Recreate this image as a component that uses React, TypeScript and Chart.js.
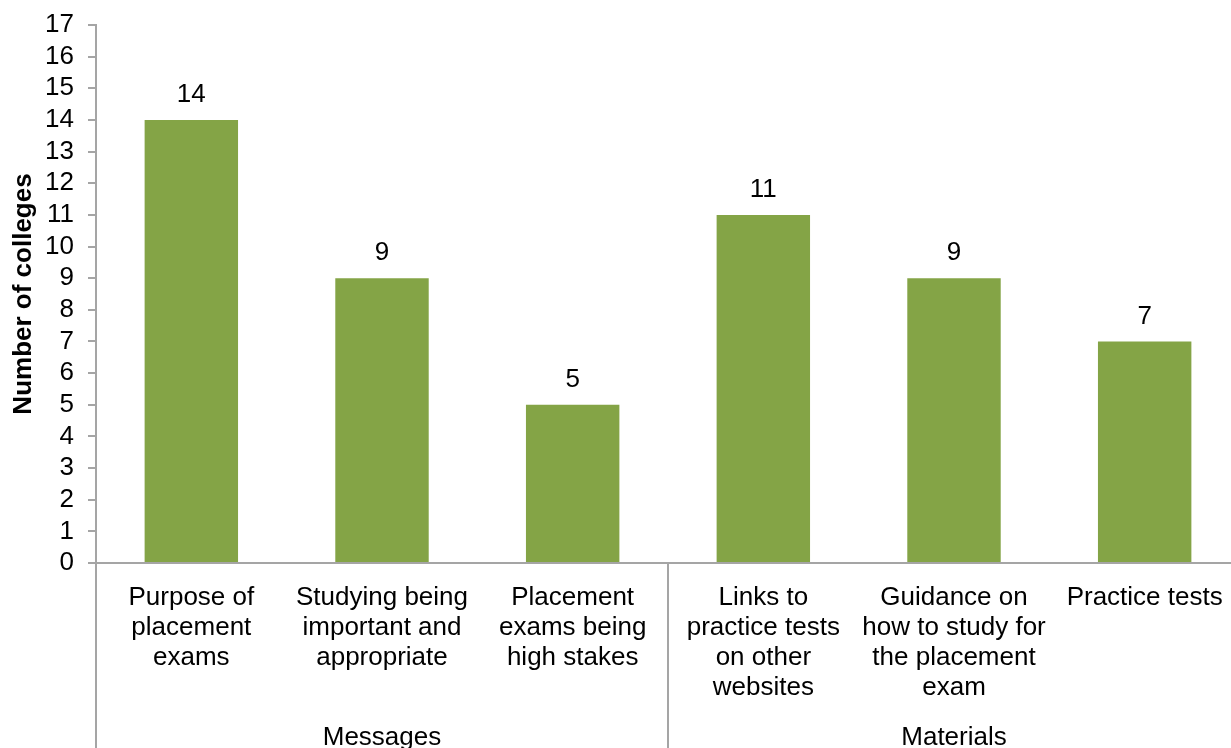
import React, { useEffect, useRef } from "react";
import { Chart, registerables } from "chart.js";

Chart.register(...registerables);

const categories: string[][] = [
  ["Purpose of", "placement", "exams"],
  ["Studying being", "important and", "appropriate"],
  ["Placement", "exams being", "high stakes"],
  ["Links to", "practice tests", "on other", "websites"],
  ["Guidance on", "how to study for", "the placement", "exam"],
  ["Practice tests"],
];
const values: number[] = [14, 9, 5, 11, 9, 7];
const groups: { label: string; start: number; end: number }[] = [
  { label: "Messages", start: 0, end: 2 },
  { label: "Materials", start: 3, end: 5 },
];
const yTitle = "Number of colleges";
const yMax = 17;

const FONT = "'Liberation Sans', Arial, sans-serif";
const AXIS = "#A5A5A5";
const BAR = "#84A446";

const W = 1260;
const H = 748;

export default function App() {
  const ref = useRef<HTMLCanvasElement | null>(null);

  useEffect(() => {
    const canvas = ref.current;
    if (!canvas) return;

    const extras = {
      id: "extras",
      afterDraw(chart: any) {
        const ctx = chart.ctx;
        const xs = chart.scales.x;
        const area = chart.chartArea;
        ctx.save();
        // data labels
        const meta = chart.getDatasetMeta(0);
        ctx.fillStyle = "#000";
        ctx.font = `26px ${FONT}`;
        ctx.textAlign = "center";
        ctx.textBaseline = "middle";
        meta.data.forEach((bar: any, i: number) => {
          ctx.fillText(String(values[i]), bar.x, bar.y - 25);
        });
        // group separators
        ctx.strokeStyle = AXIS;
        ctx.lineWidth = 2;
        const half = (xs.getPixelForValue(1) - xs.getPixelForValue(0)) / 2;
        const seps = new Set<number>();
        groups.forEach((g) => {
          seps.add(Math.round(xs.getPixelForValue(g.start) - half));
          seps.add(Math.round(xs.getPixelForValue(g.end) + half));
        });
        seps.forEach((x) => {
          ctx.beginPath();
          ctx.moveTo(x, area.bottom);
          ctx.lineTo(x, chart.height);
          ctx.stroke();
        });
        // group labels
        ctx.fillStyle = "#000";
        groups.forEach((g) => {
          const cx = (xs.getPixelForValue(g.start) + xs.getPixelForValue(g.end)) / 2;
          ctx.fillText(g.label, cx, area.bottom + 175);
        });
        ctx.restore();
      },
    };

    const chart = new Chart(canvas, {
      type: "bar",
      data: {
        labels: categories,
        datasets: [
          {
            data: values,
            backgroundColor: BAR,
            borderWidth: 0,
            barPercentage: 0.49,
            categoryPercentage: 1,
          },
        ],
      },
      options: {
        responsive: false,
        animation: false,
        layout: { padding: { top: 25, right: 20, left: 0, bottom: 0 } },
        plugins: {
          legend: { display: false },
          tooltip: { enabled: false },
          title: { display: false },
        },
        scales: {
          x: {
            grid: { display: false, drawTicks: false },
            border: { display: true, color: AXIS, width: 2 },
            ticks: {
              color: "#000",
              font: { family: FONT, size: 26, lineHeight: 30 / 26 },
              padding: 20,
              maxRotation: 0,
              minRotation: 0,
              autoSkip: false,
            },
            afterFit: (s: any) => {
              s.height = 185;
              s.paddingLeft = 0;
              s.paddingRight = 0;
            },
          },
          y: {
            min: 0,
            max: yMax,
            grid: {
              display: true,
              drawOnChartArea: false,
              drawTicks: true,
              tickLength: 8,
              color: AXIS,
              lineWidth: 2,
            },
            border: { display: true, color: AXIS, width: 2 },
            ticks: {
              stepSize: 1,
              autoSkip: false,
              color: "#000",
              font: { family: FONT, size: 26 },
              padding: 14,
            },
            title: {
              display: true,
              text: yTitle,
              color: "#000",
              font: { family: FONT, size: 26, weight: "bold" },
              padding: { top: 8, bottom: 0 },
            },
            afterFit: (s: any) => {
              s.width = 96;
              s.paddingTop = 0;
              s.paddingBottom = 0;
            },
          },
        },
      },
      plugins: [extras],
    });

    return () => chart.destroy();
  }, []);

  return (
    <div
      style={{
        position: "fixed",
        left: 0,
        top: 0,
        width: 1231,
        height: 748,
        overflow: "hidden",
        background: "#fff",
      }}
    >
      <canvas ref={ref} width={W} height={H} style={{ display: "block", width: W, height: H }} />
    </div>
  );
}
